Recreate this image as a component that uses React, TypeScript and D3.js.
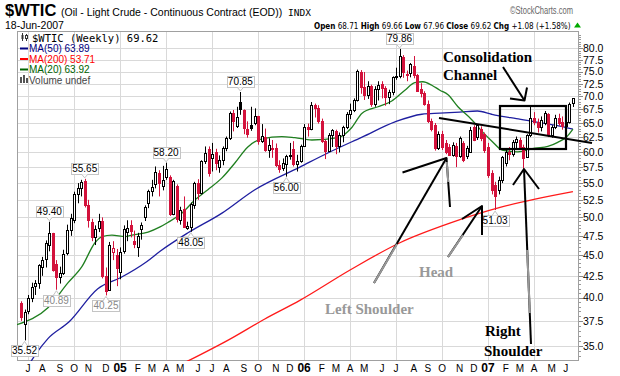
import React, { useLayoutEffect, useRef, useState } from "react";
import * as d3 from "d3";

// ---------- DATA (weekly candles, week of 21-Jun-2004 .. 18-Jun-2007) ----------
const firstWeek = new Date(2004, 5, 21);
const priorClose = 38.74;

const weekOpen = [
  39.4, 37.2, 38.5, 40.0, 41.3, 41.7, 43.6, 44.5, 46.3, 47.9,
  43.9, 42.4, 42.8, 45.3, 48.3, 49.6, 53.4, 54.2, 55.3, 51.8,
  49.4, 47.3, 48.5, 49.5, 42.5, 40.9, 45.4, 45.0, 43.0, 45.6,
  48.0, 49.0, 46.8, 46.1, 48.4, 50.0, 52.0, 53.8, 54.8, 56.5,
  54.5, 56.0, 56.0, 50.5, 54.5, 49.7, 51.2, 48.6, 48.7, 51.8,
  55.0, 53.5, 58.5, 60.5, 59.0, 60.0, 57.5, 58.6, 60.6, 62.4,
  66.9, 64.5, 68.9, 67.3, 64.0, 64.6, 65.0, 66.3, 61.8, 62.6,
  60.3, 60.5, 60.6, 57.8, 57.3, 58.0, 59.3, 60.5, 58.0, 58.5,
  61.0, 64.2, 63.9, 68.3, 67.8, 65.4, 61.8, 60.2, 62.9, 63.6,
  61.0, 62.8, 64.2, 66.6, 67.4, 69.3, 75.0, 71.9, 70.2, 72.0,
  68.5, 71.4, 72.4, 71.6, 69.9, 70.9, 74.0, 74.1, 78.0, 74.5,
  74.6, 76.2, 74.3, 71.5, 70.6, 68.6, 65.4, 64.6, 60.6, 63.0,
  61.5, 60.8, 59.5, 61.0, 59.3, 61.4, 59.3, 60.0, 64.3, 62.6,
  64.0, 63.0, 60.8, 56.6, 54.7, 54.0, 55.5, 58.2, 60.0, 59.7,
  61.6, 62.0, 60.8, 59.2, 62.8, 66.0, 65.2, 64.3, 65.0, 66.6,
  62.9, 64.3, 66.0, 65.2, 64.4, 65.2, 68.71,
];
const weekHigh = [
  39.6, 38.7, 40.3, 41.7, 42.0, 43.9, 44.8, 46.9, 49.4, 47.9,
  44.4, 43.6, 45.7, 49.0, 50.5, 53.7, 55.0, 55.5, 55.65, 52.5,
  49.8, 48.9, 50.5, 50.0, 43.5, 46.7, 46.8, 45.8, 46.0, 48.9,
  49.6, 49.6, 48.2, 47.9, 49.3, 51.7, 54.0, 55.5, 57.6, 57.0,
  57.7, 58.2, 56.2, 55.5, 54.8, 51.5, 53.0, 49.4, 52.1, 55.2,
  55.6, 58.6, 60.9, 60.9, 61.5, 60.5, 59.4, 60.9, 62.6, 67.1,
  67.4, 68.0, 70.85, 67.5, 65.3, 68.0, 67.7, 66.3, 64.8, 64.0,
  62.3, 62.0, 61.4, 58.6, 58.9, 59.5, 61.5, 61.8, 59.5, 61.2,
  64.8, 64.9, 68.9, 68.6, 68.3, 65.8, 62.0, 63.2, 63.9, 63.8,
  63.3, 64.5, 67.0, 68.6, 69.6, 75.4, 75.3, 74.9, 73.0, 72.3,
  72.0, 73.0, 73.0, 72.0, 71.3, 74.0, 75.8, 79.86, 78.5, 75.2,
  76.8, 78.3, 74.5, 72.6, 71.0, 69.2, 65.8, 65.0, 63.5, 63.6,
  62.0, 61.3, 61.6, 61.5, 62.6, 61.8, 61.0, 64.3, 64.6, 64.8,
  64.4, 63.3, 61.5, 57.0, 55.2, 56.0, 59.3, 60.6, 60.8, 62.0,
  62.6, 62.4, 61.2, 63.0, 68.1, 67.0, 65.8, 66.2, 67.2, 66.8,
  64.6, 66.5, 66.7, 66.2, 66.0, 68.8, 69.66,
];
const weekLow = [
  37.5, 35.52, 38.2, 39.5, 40.3, 41.0, 42.5, 43.5, 45.5, 43.0,
  40.89, 41.6, 42.6, 45.0, 47.5, 49.2, 52.0, 53.0, 51.4, 48.6,
  46.8, 46.3, 48.0, 42.2, 40.25, 40.8, 44.4, 41.3, 42.1, 45.2,
  46.8, 47.3, 45.9, 44.8, 47.0, 49.5, 51.3, 53.0, 54.2, 53.0,
  53.9, 55.5, 50.2, 50.3, 49.3, 49.0, 48.6, 48.3, 48.05, 51.2,
  52.5, 53.3, 58.0, 56.0, 56.8, 57.0, 56.6, 57.8, 60.1, 62.0,
  63.5, 64.1, 66.5, 63.0, 62.4, 63.6, 64.6, 61.2, 61.5, 60.0,
  59.0, 59.0, 57.5, 56.6, 56.9, 56.0, 58.7, 57.6, 56.8, 58.2,
  60.8, 62.6, 63.7, 66.0, 64.9, 61.5, 58.8, 60.0, 60.8, 59.6,
  59.9, 61.6, 63.9, 65.7, 67.0, 69.0, 70.5, 69.3, 69.5, 68.0,
  68.0, 69.2, 69.6, 68.2, 68.5, 70.2, 73.3, 73.6, 73.7, 73.0,
  73.8, 73.6, 71.0, 69.8, 68.2, 65.0, 63.5, 60.2, 60.3, 60.3,
  59.6, 59.3, 59.2, 57.5, 59.0, 58.3, 58.8, 59.8, 61.8, 62.0,
  61.8, 59.8, 55.8, 53.3, 51.03, 53.3, 55.0, 57.6, 58.6, 59.2,
  60.4, 60.3, 57.2, 59.0, 62.5, 64.6, 63.3, 63.5, 64.6, 62.5,
  62.4, 63.9, 64.5, 63.8, 63.6, 64.9, 67.96,
];
const weekClose = [
  37.9, 38.4, 39.96, 41.25, 41.71, 43.8, 44.41, 46.58, 47.86, 43.18,
  42.4, 42.81, 45.2, 48.3, 49.9, 53.31, 54.2, 55.17, 51.76, 49.61,
  47.32, 48.44, 49.44, 42.54, 40.71, 46.28, 45.9, 43.45, 45.43, 48.38,
  48.53, 48.2, 46.48, 47.54, 48.9, 51.49, 53.78, 54.43, 56.72, 55.0,
  55.4, 57.27, 50.49, 55.39, 49.72, 51.01, 48.67, 48.8, 51.85, 55.03,
  53.54, 58.47, 59.84, 56.5, 59.63, 58.09, 58.65, 60.57, 62.31, 66.86,
  65.36, 66.13, 67.57, 64.08, 63.0, 64.19, 66.24, 61.84, 62.63, 60.34,
  61.09, 60.58, 57.8, 57.2, 58.2, 59.32, 59.39, 58.06, 58.43, 61.04,
  64.21, 63.92, 68.35, 67.76, 65.37, 61.84, 60.2, 62.91, 63.67, 61.0,
  62.89, 64.26, 66.63, 67.39, 69.32, 75.17, 71.88, 70.19, 72.04, 68.53,
  71.37, 72.33, 71.63, 69.93, 70.87, 73.93, 74.09, 78.2, 75.0, 74.54,
  76.5, 74.35, 71.14, 70.6, 68.6, 65.4, 64.0, 60.6, 63.1, 60.8,
  60.0, 59.5, 61.1, 59.3, 62.3, 58.6, 60.6, 63.8, 62.0, 64.6,
  62.3, 60.3, 56.2, 54.0, 53.0, 55.4, 59.1, 60.0, 59.7, 61.6,
  62.2, 60.8, 59.0, 62.8, 66.0, 65.2, 64.3, 65.5, 66.8, 62.9,
  64.2, 66.0, 65.0, 64.4, 65.2, 68.54, 69.62,
];

// moving averages: [week index, value]
const ma20Points = [
  [-1.2, 37.1], [7.6, 38.9], [13.3, 41.7], [17.2, 43.6], [20.9, 46.6], [22.9, 47.4],
  [25.7, 47.6], [29.4, 47.4], [31.4, 47.6], [35.9, 48.0], [39.3, 48.7], [41.5, 49.3],
  [45.5, 50.6], [49.2, 52.5], [52.8, 54.0], [56.8, 55.8], [60.5, 58.2], [64.1, 60.8],
  [68.1, 62.2], [73.7, 62.6], [77.4, 62.4], [82.2, 62.0], [89.6, 62.4], [93.5, 64.2],
  [96.4, 66.8], [100.9, 68.0], [104.8, 69.1], [108.5, 71.2], [111.3, 72.7], [113.6, 72.9],
  [116.1, 72.2], [118.4, 71.2], [120.7, 70.3], [123.5, 68.0], [127.4, 65.6], [130.3, 63.5],
  [133.1, 61.8], [136, 60.3], [140.4, 60.0], [145.3, 60.6], [148.9, 60.9], [151.7, 61.6],
  [154.3, 62.6], [156, 63.92],
];
const ma50Points = [
  [2.8, 33.5], [4.4, 34.3], [7.6, 35.7], [13.6, 37.4], [21.7, 41.0], [28.2, 42.3],
  [35.5, 44.2], [39.3, 45.5], [47.2, 47.9], [56.8, 50.6], [66.1, 54.0], [78.8, 57.5],
  [86.7, 59.8], [96.4, 62.5], [105.7, 65.2], [113.3, 66.6], [118.4, 66.8], [124, 67.0],
  [129, 67.2], [133, 66.6], [136, 66.2], [140, 65.8], [145.3, 65.2], [151, 64.6], [156, 63.89],
];
const ma200Points = [
  [46.9, 33.5], [58.8, 35.6], [68.9, 37.7], [78.8, 39.7], [93, 43.2], [107.1, 46.6],
  [121.2, 49.2], [135.4, 51.4], [145.3, 52.6], [156, 53.71],
];

const yTickValues = [35, 37.5, 40, 42.5, 45, 47.5, 50, 52.5, 55, 57.5, 60, 62.5, 65, 67.5, 70, 72.5, 75, 77.5, 80];
const monthLetters = ["J", "F", "M", "A", "M", "J", "J", "A", "S", "O", "N", "D"];

const flagWeek = [1, 8, 10, 18, 24, 41, 48, 62, 75, 107, 134];
const flagSide = ["low", "high", "low", "high", "low", "high", "low", "high", "low", "high", "low"];
const flagText = ["35.52", "49.40", "40.89", "55.65", "40.25", "58.20", "48.05", "70.85", "56.00", "79.86", "51.03"];

const legendLabels = ["MA(50) 63.89", "MA(200) 53.71", "MA(20) 63.92"];
const legendColors = ["#000080", "#ff0000", "#006400"];

// header quote line: [label, value]
const quoteLabels = ["Open", "High", "Low", "Close", "Chg"];
const quoteValues = ["68.71", "69.66", "67.96", "69.62", "+1.08 (+1.58%)"];

// ---------- hand-drawn annotations (pixel positions) ----------
const annoLines: [number, number][][] = [
  [[503, 67], [524.5, 100.5]],
  [[510, 98.5], [524.5, 100.5], [527, 87.5]],
  [[439, 118], [592, 143]],
  [[374, 283], [446.5, 158]],
  [[402.5, 172.5], [446.5, 158], [450, 207]],
  [[448, 257], [482, 206]],
  [[462, 219], [482, 206], [482, 235]],
  [[524, 169], [531, 344]],
  [[513, 185], [524, 169], [539, 189]],
];
const annoGray: [number, number][][] = [
  [[374, 283], [397, 244]],
  [[446.8, 162], [448.2, 182]],
  [[448, 257], [463, 235]],
  [[527.2, 250], [529.8, 313]],
];

const RED = "#d3123c";
const SANS = "'Liberation Sans', Arial, sans-serif";
const NARROW = "'Liberation Sans Narrow', 'DejaVu Sans Condensed', 'Liberation Sans', Arial, sans-serif";
const SERIF = "'Liberation Serif', 'Times New Roman', serif";
const MONO = "'DejaVu Sans Mono', monospace";

export default function App() {
  const L = 17, R = 579, T = 31, B = 361;
  const weeks = weekClose.map((_, i) => d3.timeDay.offset(firstWeek, 7 * i));
  const x = d3.scaleTime().domain([new Date(2004, 5, 13), new Date(2007, 5, 30)]).range([L, R]);
  const xi = d3.scaleLinear().domain([0, weeks.length - 1]).range([x(weeks[0]), x(weeks[weeks.length - 1])]);
  const y = d3.scaleLog().domain([35, 80]).range([345.7, 48.3]);

  const line = d3.line<number[]>().x((d) => xi(d[0])).y((d) => y(d[1])).curve(d3.curveMonotoneX);

  const monthMarks: { i: number; m: number; yr: number }[] = [];
  weeks.forEach((d, i) => {
    if (d.getDate() <= 7) monthMarks.push({ i, m: d.getMonth(), yr: d.getFullYear() });
  });

  const minorTicks = d3.range(34, 83.01, 0.5);

  // fit the quote line into its slot (314 .. 572)
  const quoteRef = useRef<SVGTextElement>(null);
  const [quoteSize, setQuoteSize] = useState(10.5);
  useLayoutEffect(() => {
    const el = quoteRef.current;
    if (!el) return;
    const len = el.getComputedTextLength();
    const target = 257;
    if (len > 0 && Math.abs(len - target) > 1.5) setQuoteSize((s) => Math.min(11, (s * target) / len));
  }, [quoteSize]);

  return (
    <svg width={620} height={376} style={{ position: "fixed", left: 0, top: 0, background: "#fff" }}>
      <rect x={0} y={0} width={620} height={376} fill="#fff" />
      <defs>
        <clipPath id="plot">
          <rect x={L} y={T} width={R - L} height={B - T} />
        </clipPath>
      </defs>

      {/* header */}
      <text x={5} y={15.5} fontFamily={SANS} fontWeight="bold" fontSize={16.5}>$WTIC</text>
      <text x={61} y={15.5} fontFamily={SANS} fontSize={10.5}>(Oil - Light Crude - Continuous Contract (EOD))</text>
      <text x={288} y={15.5} fontFamily={MONO} fontSize={9.5}>INDX</text>
      <text x={510} y={14} fontFamily={SANS} fontSize={10.5} fill="#666" textLength={63} lengthAdjust="spacingAndGlyphs">©StockCharts.com</text>
      <text x={5} y={29} fontFamily={SANS} fontSize={10.5}>18-Jun-2007</text>
      <text ref={quoteRef} x={314} y={28.5} fontFamily={NARROW} fontSize={quoteSize}>
        {quoteLabels.map((lab, k) => (
          <React.Fragment key={"q" + k}>
            <tspan fontWeight="bold">{lab}</tspan>
            <tspan>{" " + quoteValues[k] + (k < quoteLabels.length - 1 ? " " : "")}</tspan>
          </React.Fragment>
        ))}
      </text>
      <path d="M574,27.5 L577.5,22.5 L581,27.5 Z" fill="#0a0" />

      {/* grid */}
      {yTickValues.map((v) => (
        <line key={"h" + v} x1={L} x2={R} y1={Math.round(y(v)) + 0.5} y2={Math.round(y(v)) + 0.5} stroke="#d9d9d9" />
      ))}
      {monthMarks.filter((m) => m.m % 3 === 0).map((m) => (
        <line key={"v" + m.i} x1={Math.round(xi(m.i)) + 0.5} x2={Math.round(xi(m.i)) + 0.5} y1={T} y2={B} stroke="#d9d9d9" />
      ))}
      <rect x={L + 0.5} y={T + 0.5} width={R - L - 1} height={B - T - 1} fill="none" stroke="#a0a0a0" />

      {/* right axis */}
      {minorTicks.filter((v) => y(v) > T && y(v) < B).map((v) => (
        <line key={"m" + v} x1={R} x2={R + 2} y1={Math.round(y(v)) + 0.5} y2={Math.round(y(v)) + 0.5} stroke="#999" />
      ))}
      {yTickValues.map((v) => (
        <g key={"t" + v}>
          <line x1={R} x2={R + 4} y1={Math.round(y(v)) + 0.5} y2={Math.round(y(v)) + 0.5} stroke="#888" />
          <text x={583} y={y(v) + 3.8} fontFamily={SANS} fontSize={10.5}>{v.toFixed(1)}</text>
        </g>
      ))}

      {/* x axis labels */}
      {monthMarks.map((m) => (
        <text key={"xl" + m.i} x={xi(m.i)} y={371.5} textAnchor="middle" fontFamily={SANS}
          fontSize={m.m === 0 ? 12 : 10} fontWeight={m.m === 0 ? "bold" : "normal"}>
          {m.m === 0 ? String(m.yr).slice(2) : monthLetters[m.m]}
        </text>
      ))}

      {/* moving averages */}
      <g clipPath="url(#plot)" fill="none" strokeWidth={1.3}>
        <path d={line(ma200Points) || ""} stroke="#ff1a1a" />
        <path d={line(ma50Points) || ""} stroke="#1f1fa0" />
        <path d={line(ma20Points) || ""} stroke="#1f7f1f" />
      </g>

      {/* candles */}
      <g clipPath="url(#plot)">
        {weekClose.map((c, i) => {
          const o = weekOpen[i], h = weekHigh[i], l = weekLow[i];
          const prev = i ? weekClose[i - 1] : priorClose;
          const col = c < prev ? RED : "#000";
          const hollow = c >= o;
          const cx = Math.round(xi(i));
          const yt = Math.round(y(Math.max(o, c)));
          const yb = Math.round(y(Math.min(o, c)));
          return (
            <g key={"c" + i}>
              <line x1={cx + 0.5} x2={cx + 0.5} y1={y(h)} y2={y(l)} stroke={col} />
              <rect x={cx - 0.5} y={yt + 0.5} width={2} height={Math.max(1, yb - yt)}
                fill={hollow ? "#fff" : col} stroke={col} />
            </g>
          );
        })}
      </g>

      {/* price flags */}
      {flagWeek.map((w, k) => {
        const cx = xi(w);
        const isHigh = flagSide[k] === "high";
        const py = isHigh ? y(weekHigh[w]) : y(weekLow[w]);
        const bw = 27, bh = 11;
        const by = isHigh ? py - 5 - bh : py + 5;
        const tipY = isHigh ? py - 1 : py + 1;
        const baseY = isHigh ? by + bh : by;
        const gray = flagText[k] === "40.89" || flagText[k] === "40.25";
        return (
          <g key={"f" + k}>
            <rect x={Math.round(cx - bw / 2) + 0.5} y={Math.round(by) + 0.5} width={bw} height={bh} fill="#fff" stroke="#c4c4c4" />
            <path d={`M${cx - 3},${baseY + 0.5} L${cx},${tipY} L${cx + 3},${baseY + 0.5}`} fill="#fff" stroke="#c4c4c4" />
            <text x={cx} y={by + 9} textAnchor="middle" fontFamily={SANS} fontSize={10} fill={gray ? "#888" : "#000"}>{flagText[k]}</text>
          </g>
        );
      })}

      {/* legend */}
      <g>
        <line x1={22.5} x2={22.5} y1={33} y2={41} stroke="#333" />
        <rect x={21.5} y={35} width={2} height={4} fill="#333" />
        <line x1={26.5} x2={26.5} y1={34} y2={41} stroke="#333" />
        <rect x={25.5} y={35.5} width={2} height={3} fill="#fff" stroke="#333" />
        <text x={32} y={41.5} fontFamily={MONO} fontSize={10.5}>$WTIC (Weekly) 69.62</text>
        {legendLabels.map((t, k) => (
          <g key={"lg" + k}>
            <line x1={20} x2={28} y1={48.5 + k * 10.5} y2={48.5 + k * 10.5} stroke={legendColors[k]} strokeWidth={2} />
            <text x={29} y={52 + k * 10.5} fontFamily={SANS} fontSize={10} fill={legendColors[k]}>{t}</text>
          </g>
        ))}
        <rect x={20} y={77} width={2} height={6} fill="#555" />
        <rect x={23} y={75} width={2} height={8} fill="#555" />
        <rect x={26} y={78} width={2} height={5} fill="#555" />
        <text x={29} y={83.5} fontFamily={SANS} fontSize={10} fill="#444">Volume undef</text>
      </g>

      {/* annotations */}
      <rect x={500} y={106} width={66} height={43} fill="none" stroke="#000" strokeWidth={2.2} />
      {annoLines.map((pts, k) => (
        <polyline key={"a" + k} points={pts.map((p) => p.join(",")).join(" ")} fill="none" stroke="#000" strokeWidth={2} strokeLinejoin="round" />
      ))}
      {annoGray.map((pts, k) => (
        <polyline key={"ag" + k} points={pts.map((p) => p.join(",")).join(" ")} fill="none" stroke="#999" strokeWidth={2} />
      ))}
      <text x={443} y={62} fontFamily={SERIF} fontWeight="bold" fontSize={15}>Consolidation</text>
      <text x={443} y={79.5} fontFamily={SERIF} fontWeight="bold" fontSize={15}>Channel</text>
      <text x={325} y={314} fontFamily={SERIF} fontWeight="bold" fontSize={15} fill="#999">Left Shoulder</text>
      <text x={419} y={276.5} fontFamily={SERIF} fontWeight="bold" fontSize={15} fill="#999">Head</text>
      <text x={485} y={336} fontFamily={SERIF} fontWeight="bold" fontSize={15}>Right</text>
      <text x={484} y={356} fontFamily={SERIF} fontWeight="bold" fontSize={15}>Shoulder</text>
    </svg>
  );
}
